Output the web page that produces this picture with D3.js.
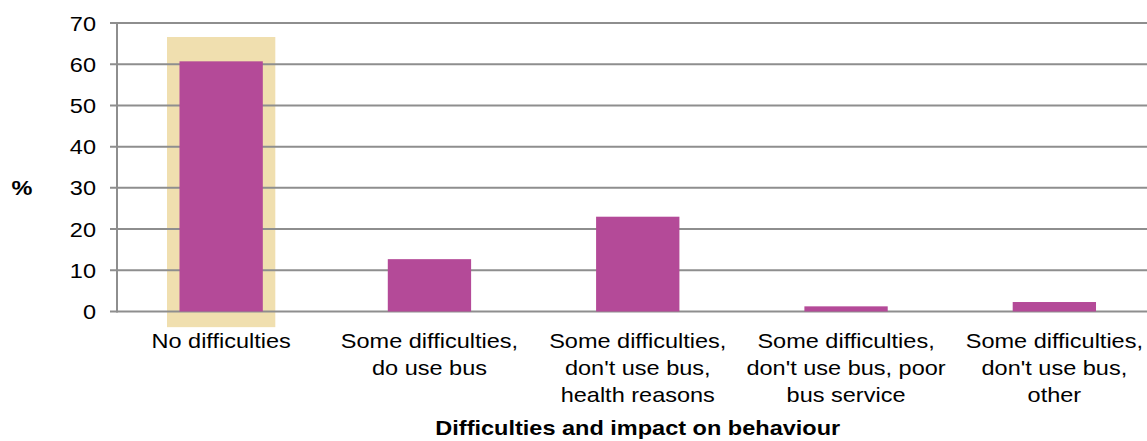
<!DOCTYPE html>
<html><head><meta charset="utf-8">
<script src="https://cdn.jsdelivr.net/npm/d3@7"></script>
<style>
html,body{margin:0;padding:0;background:#fff;}
svg{display:block;}
text{font-family:"Liberation Sans",Arial,sans-serif;fill:#000;}
</style></head>
<body><svg id="c" width="1147" height="441"></svg>
<script>
const categories = [
  ["No difficulties"],
  ["Some difficulties,", "do use bus"],
  ["Some difficulties,", "don't use bus,", "health reasons"],
  ["Some difficulties,", "don't use bus, poor", "bus service"],
  ["Some difficulties,", "don't use bus,", "other"]
];
const values = [60.7, 12.7, 23.0, 1.25, 2.3];
const yTicks = [0, 10, 20, 30, 40, 50, 60, 70];
const highlightIndex = 0;
const yLabel = "%";
const xTitle = "Difficulties and impact on behaviour";

const svg = d3.select("#c");
const SX = 1.12, FS = 21;
const x0 = 117, yTop = 23, yBot = 311.5;
const x = d3.scaleBand().domain(d3.range(categories.length)).range([x0, x0 + 5 * 208.3]).padding(0);
const y = d3.scaleLinear().domain([0, 70]).range([yBot, yTop]);
const bw = x.bandwidth();

// highlight behind first bar
const hw = bw * 0.52;
svg.append("rect")
  .attr("x", x(highlightIndex) + bw / 2 - hw / 2)
  .attr("y", y(66.6))
  .attr("width", hw)
  .attr("height", y(-3.8) - y(66.6))
  .attr("fill", "#f0dfaf");

// gridlines + ticks
svg.append("g").selectAll("line").data(yTicks).join("line")
  .attr("x1", 110).attr("x2", 1147)
  .attr("y1", d => y(d)).attr("y2", d => y(d))
  .attr("stroke", "#8e8e8e").attr("stroke-width", 2);
svg.append("line").attr("x1", x0).attr("x2", x0).attr("y1", y(70) - 1).attr("y2", y(0) + 1)
  .attr("stroke", "#8e8e8e").attr("stroke-width", 2);

// bars
const barW = bw * 0.4;
svg.append("g").selectAll("rect").data(values).join("rect")
  .attr("x", (d, i) => x(i) + bw / 2 - barW / 2)
  .attr("y", d => y(d))
  .attr("width", barW)
  .attr("height", d => y(0) - y(d))
  .attr("fill", "#b44a98");

// y tick labels
svg.append("g").selectAll("text").data(yTicks).join("text")
  .attr("transform", d => `translate(96,${y(d) + 7.5}) scale(${SX},1)`)
  .attr("text-anchor", "end").attr("font-size", FS)
  .text(d => d);

// x labels
categories.forEach((lines, i) => {
  const t = svg.append("text")
    .attr("transform", `translate(${x(i) + bw / 2},348) scale(${SX},1)`)
    .attr("text-anchor", "middle").attr("font-size", FS);
  lines.forEach((l, j) => t.append("tspan").attr("x", 0).attr("y", j * 27).text(l));
});

// axis titles
svg.append("text").attr("transform", `translate(22,195) scale(${SX},1)`)
  .attr("text-anchor", "middle").attr("font-size", FS).attr("font-weight", "bold").text(yLabel);
svg.append("text").attr("transform", `translate(${x0 + 1041.5 / 2},435) scale(${SX},1)`)
  .attr("text-anchor", "middle").attr("font-size", FS).attr("font-weight", "bold").text(xTitle);
</script></body></html>
